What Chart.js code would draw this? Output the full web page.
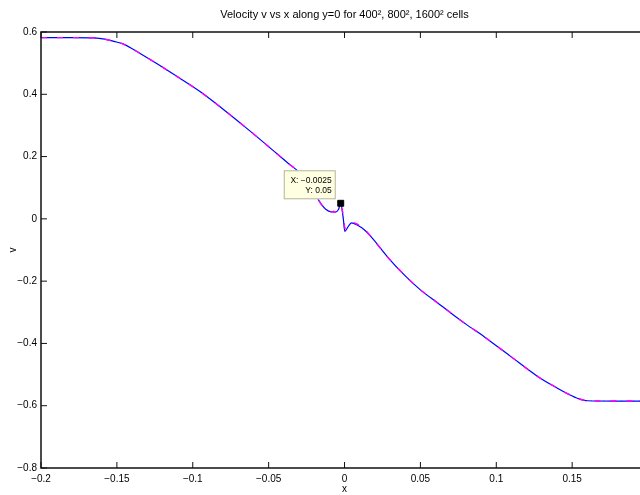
<!DOCTYPE html>
<html>
<head>
<meta charset="utf-8">
<script src="https://cdn.jsdelivr.net/npm/chart.js@4.4.1/dist/chart.umd.min.js"></script>
<style>
  html, body { margin: 0; padding: 0; background: #fff; overflow: hidden; }
  #wrap { width: 640px; height: 495px; overflow: hidden; }
</style>
</head>
<body>
<div id="wrap"><canvas id="vChart" width="660" height="495"></canvas></div>
<script>
// sample positions along y=0 (shared by all three grids)
const xs = [-0.2, -0.18, -0.165, -0.158, -0.152, -0.146, -0.135, -0.1235, -0.11, -0.095,
    -0.08, -0.065, -0.05, -0.037, -0.03, -0.0225, -0.015, -0.0105, -0.006, -0.004,
    -0.0025, -0.0008, 0.0002, 0.002, 0.0046, 0.008, 0.013, 0.0176, 0.0288, 0.04,
    0.05, 0.0614, 0.07, 0.08, 0.0922, 0.109, 0.127, 0.14, 0.148, 0.154,
    0.16, 0.18, 0.2];

// velocity v for each resolution
const v1600 = [0.582, 0.582, 0.581, 0.577, 0.570, 0.562, 0.532, 0.498, 0.456, 0.408,
    0.352, 0.293, 0.232, 0.178, 0.150, 0.105, 0.045, 0.025, 0.022, 0.030,
    0.05, 0.0, -0.040, -0.028, -0.013, -0.019, -0.035, -0.058, -0.125, -0.183,
    -0.228, -0.270, -0.302, -0.338, -0.379, -0.440, -0.505, -0.543, -0.564, -0.577,
    -0.584, -0.585, -0.585];
const v800 = [0.582, 0.582, 0.581, 0.577, 0.570, 0.562, 0.532, 0.498, 0.456, 0.408,
    0.352, 0.293, 0.232, 0.178, 0.150, 0.105, 0.045, 0.025, 0.022, 0.028,
    0.042, 0.010, -0.030, -0.025, -0.011, -0.016, -0.033, -0.058, -0.125, -0.183,
    -0.228, -0.270, -0.302, -0.338, -0.379, -0.440, -0.505, -0.543, -0.564, -0.577,
    -0.584, -0.585, -0.585];
const v400 = [0.582, 0.582, 0.581, 0.577, 0.570, 0.562, 0.532, 0.498, 0.456, 0.408,
    0.352, 0.293, 0.232, 0.178, 0.150, 0.105, 0.047, 0.028, 0.026, 0.030,
    0.035, 0.012, -0.020, -0.022, -0.014, -0.018, -0.034, -0.058, -0.125, -0.183,
    -0.228, -0.270, -0.302, -0.338, -0.379, -0.440, -0.505, -0.543, -0.564, -0.577,
    -0.584, -0.585, -0.585];

const xTicks = [-0.2, -0.15, -0.1, -0.05, 0, 0.05, 0.1, 0.15, 0.2];
const yTicks = [-0.8, -0.6, -0.4, -0.2, 0, 0.2, 0.4, 0.6];

// data cursor
const tipX = -0.0025;
const tipY = 0.05;

const FONT = '"Liberation Sans", Arial, sans-serif';

function pts(ys) {
    return xs.map((x, i) => ({ x: x, y: ys[i] }));
}

function fmt(v) {
    const s = String(+v.toFixed(4));
    return s.replace('-', '\u2212');
}

// MATLAB style box with inward ticks on all four sides
const boxAxes = {
    id: 'boxAxes',
    afterDraw(chart) {
        const { ctx, chartArea: a, scales } = chart;
        const tl = 6;
        ctx.save();
        ctx.strokeStyle = '#111';
        ctx.lineWidth = 1.5;
        ctx.strokeRect(a.left, a.top, a.right - a.left, a.bottom - a.top);
        ctx.lineWidth = 1;
        ctx.beginPath();
        xTicks.forEach(t => {
            const px = scales.x.getPixelForValue(t);
            ctx.moveTo(px, a.bottom); ctx.lineTo(px, a.bottom - tl);
            ctx.moveTo(px, a.top); ctx.lineTo(px, a.top + tl);
        });
        yTicks.forEach(t => {
            const py = scales.y.getPixelForValue(t);
            ctx.moveTo(a.left, py); ctx.lineTo(a.left + tl, py);
            ctx.moveTo(a.right, py); ctx.lineTo(a.right - tl, py);
        });
        ctx.stroke();
        ctx.restore();
    }
};

// datatip box next to the marked point
const dataTip = {
    id: 'dataTip',
    afterDatasetsDraw(chart) {
        const { ctx, scales } = chart;
        const px = scales.x.getPixelForValue(tipX);
        const py = scales.y.getPixelForValue(tipY);
        const w = 52, h = 29;
        const right = px - 5, bottom = py - 4;
        ctx.save();
        ctx.fillStyle = '#ffffe1';
        ctx.strokeStyle = '#b4b4a0';
        ctx.lineWidth = 1;
        ctx.fillRect(right - w, bottom - h, w, h);
        ctx.strokeRect(right - w + 0.5, bottom - h + 0.5, w - 1, h - 1);
        ctx.fillStyle = '#000';
        ctx.font = '8.5px ' + FONT;
        ctx.textAlign = 'right';
        ctx.textBaseline = 'middle';
        ctx.fillText('X: ' + fmt(tipX), right - 4, bottom - h + 10);
        ctx.fillText('Y: ' + fmt(tipY), right - 4, bottom - h + 20);
        ctx.restore();
    }
};

Chart.defaults.font.family = FONT;
Chart.defaults.color = '#000';

new Chart(document.getElementById('vChart').getContext('2d'), {
    type: 'scatter',
    data: {
        datasets: [
            {
                label: '400^2',
                data: pts(v400),
                showLine: true,
                cubicInterpolationMode: 'monotone',
                borderColor: 'rgba(0, 0, 0, 0.35)',
                borderWidth: 1,
                borderDash: [1, 5],
                pointRadius: 0,
                order: 4
            },
            {
                label: '1600^2',
                data: pts(v1600),
                showLine: true,
                cubicInterpolationMode: 'monotone',
                borderColor: 'rgb(0, 0, 255)',
                borderWidth: 1.2,
                pointRadius: 0,
                order: 3
            },
            {
                label: '800^2',
                data: pts(v800),
                showLine: true,
                cubicInterpolationMode: 'monotone',
                borderColor: 'rgb(255, 0, 255)',
                borderWidth: 1.4,
                borderDash: [6, 10],
                pointRadius: 0,
                order: 2
            },
            {
                label: 'cursor',
                data: [{ x: tipX, y: tipY }],
                pointStyle: 'rect',
                pointRadius: 4.2,
                backgroundColor: '#000',
                borderColor: '#000',
                order: 1
            }
        ]
    },
    options: {
        responsive: false,
        animation: false,
        layout: { padding: { left: 0, right: 6, top: 0, bottom: 0 } },
        plugins: {
            legend: { display: false },
            tooltip: { enabled: false },
            title: {
                display: true,
                fullSize: false,
                text: 'Velocity v vs x along y=0 for 400\u00b2, 800\u00b2, 1600\u00b2 cells',
                font: { size: 11, weight: 'normal', lineHeight: 1.2 },
                padding: { top: 8, bottom: 10.8 }
            }
        },
        scales: {
            x: {
                type: 'linear',
                min: -0.2,
                max: 0.2,
                afterFit(scale) { scale.height = 27; },
                afterBuildTicks(scale) { scale.ticks = xTicks.map(v => ({ value: v })); },
                grid: { display: false, drawTicks: false },
                border: { display: false },
                ticks: {
                    autoSkip: false,
                    maxRotation: 0,
                    padding: 5,
                    font: { size: 10 },
                    callback: v => fmt(v)
                },
                title: { display: true, text: 'x', font: { size: 10 }, padding: 0 }
            },
            y: {
                min: -0.8,
                max: 0.6,
                afterFit(scale) { scale.width = 41; },
                afterBuildTicks(scale) { scale.ticks = yTicks.map(v => ({ value: v })); },
                grid: { display: false, drawTicks: false },
                border: { display: false },
                ticks: {
                    padding: 4,
                    font: { size: 10 },
                    callback: v => fmt(v)
                },
                title: { display: true, text: 'v', font: { size: 10 }, padding: { top: 7, bottom: 0 } }
            }
        }
    },
    plugins: [dataTip, boxAxes]
});
</script>
</body>
</html>
